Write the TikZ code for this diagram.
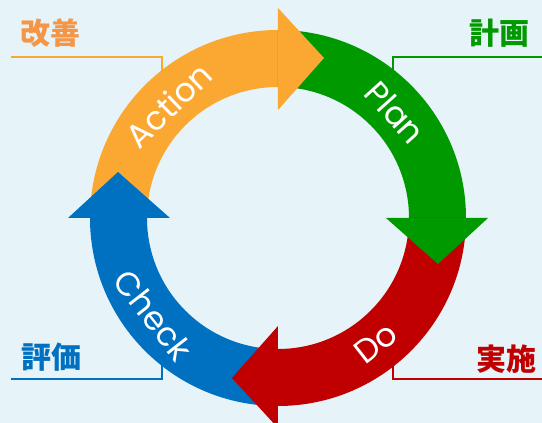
\documentclass[tikz,border=0pt]{standalone}
\usepackage{fontspec}
\usepackage{pdfrender}
\newfontfamily\ringfont{Poppins}
\newfontfamily\jpfont{Noto Sans CJK JP}
\definecolor{bgblue}{RGB}{230,243,248}
\definecolor{actorange}{RGB}{251,168,50}
\definecolor{plangreen}{RGB}{0,153,0}
\definecolor{dored}{RGB}{192,0,0}
\definecolor{checkblue}{RGB}{0,112,192}
\definecolor{kaizenorange}{RGB}{245,150,70}
\newcommand{\ringword}[1]{\textpdfrender{TextRenderingMode=FillStroke,LineWidth=0.7,StrokeColor=gray,FillColor=white}{#1}}

\begin{document}
\begin{tikzpicture}[x=1pt,y=1pt,
  word/.style={font=\ringfont\fontsize{33}{33}\selectfont, text=white, inner sep=0pt},
  tag/.style={font=\jpfont\bfseries\fontsize{30}{30}\selectfont, inner sep=0pt},
  lead/.style={line width=1.3pt}]
% Background
\useasboundingbox (-278,-205) rectangle (264,218);
\fill[bgblue] (-278,-205) rectangle (264,218);
% Bands
\fill[actorange] (180:188) arc[start angle=180,end angle=90,radius=188] -- (90:131) arc[start angle=90,end angle=180,radius=131] -- cycle;
\fill[plangreen] (90:188) arc[start angle=90,end angle=0,radius=188] -- (0:131) arc[start angle=0,end angle=90,radius=131] -- cycle;
\fill[dored] (0:188) arc[start angle=0,end angle=-90,radius=188] -- (-90:131) arc[start angle=-90,end angle=0,radius=131] -- cycle;
\fill[checkblue] (-90:188) arc[start angle=-90,end angle=-180,radius=188] -- (-180:131) arc[start angle=-180,end angle=-90,radius=131] -- cycle;
% Heads
\fill[actorange] (90:108) -- (90:210) -- (46,160) -- cycle;
\fill[plangreen] (0:108) -- (0:210) -- (160,-46) -- cycle;
\fill[dored] (-90:108) -- (-90:210) -- (-46,-160) -- cycle;
\fill[checkblue] (180:108) -- (180:210) -- (-160,46) -- cycle;
% Words on the ring
\node[word, rotate=44] (act) at (134:157) {\ringword{Action}};
\node[word, rotate=-48] (plan) at (42:158) {\ringword{Plan}};
\node[word, rotate=38] (do) at (-52:159) {\ringword{Do}};
\node[word, rotate=-52] (check) at (-142:158) {\ringword{Check}};
% Labels
\node[tag, text=kaizenorange] (kaizen) at (-227,185) {改善};
\node[tag, text=plangreen] (keikaku) at (222,185) {計画};
\node[tag, text=checkblue] (hyoka) at (-226,-139) {評価};
\node[tag, text=dored] (jisshi) at (229,-141) {実施};
% Leader lines
\draw[lead, actorange] (-267,161) -- (-116,161) -- (-116,147);
\draw[lead, plangreen] (264,161) -- (115,161) -- (115,147);
\draw[lead, checkblue] (-267,-161) -- (-116,-161) -- (-116,-147);
\draw[lead, dored] (264,-161) -- (115,-161) -- (115,-147);
\end{tikzpicture}
\end{document}
